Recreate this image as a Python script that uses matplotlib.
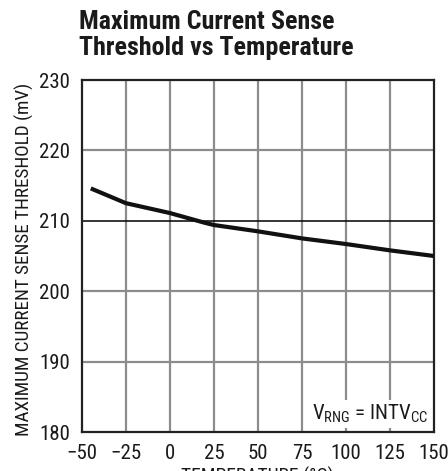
import matplotlib
matplotlib.use('Agg')
import matplotlib.pyplot as plt

# data
temps = [-45, -25, 0, 20, 25, 50, 75, 100, 125, 150]
threshold = [214.6, 212.5, 211.1, 209.7, 209.4, 208.5, 207.5, 206.7, 205.8, 205.0]

xticks = [-50, -25, 0, 25, 50, 75, 100, 125, 150]
xticklabels = ['\u221250', '\u221225', '0', '25', '50', '75', '100', '125', '150']
yticks = [180, 190, 200, 210, 220, 230]

W, H = 448, 471
fig = plt.figure(figsize=(W / 100, H / 100), dpi=100)
ax = fig.add_axes([82 / W, 1 - 432 / H, 352 / W, 352 / H])

narrow = ['Roboto Condensed', 'DejaVu Sans']

ax.set_xlim(-50, 150)
ax.set_ylim(180, 230)
ax.set_xticks(xticks)
ax.set_xticklabels(xticklabels)
ax.set_yticks(yticks)
ax.tick_params(length=0, labelsize=15, colors='#1a1a1a')
ax.tick_params(axis='x', pad=8.5)
ax.tick_params(axis='y', pad=8.5)
for lab in ax.get_xticklabels() + ax.get_yticklabels():
    lab.set_fontfamily(narrow)

# grid
for t in xticks[1:-1]:
    ax.axvline(t, color='#8c8c8c', lw=1.6, zorder=1)
for v in [190, 200, 220]:
    ax.axhline(v, color='#8c8c8c', lw=1.6, zorder=1)
ax.axhline(210, color='black', lw=1.1, zorder=1)

for sp in ax.spines.values():
    sp.set_linewidth(1.6)
    sp.set_color('#222222')

ax.plot(temps, threshold, color='#111111', lw=3.0, solid_capstyle='butt', zorder=3)

ax.text(0.985, 0.02, r'V$_{\mathregular{RNG}}$ = INTV$_{\mathregular{CC}}$',
        transform=ax.transAxes, ha='right', va='bottom', fontsize=15,
        family=narrow, zorder=4, color='#1a1a1a',
        bbox=dict(facecolor='white', edgecolor='none', pad=2))

ax.set_ylabel('MAXIMUM CURRENT SENSE THRESHOLD (mV)', family=narrow,
              fontsize=13.8, color='#1a1a1a')
ax.yaxis.set_label_coords(-0.135, 0.49)

fig.text(257 / W, 1 - 467 / H, 'TEMPERATURE (\u00b0C)', family=narrow,
         fontsize=14, ha='center', va='top', color='#1a1a1a')

fig.text(79 / W, 1 - 10 / H, 'Maximum Current Sense\nThreshold vs Temperature',
         family=narrow, fontweight='bold', fontsize=18.7, ha='left', va='top',
         linespacing=1.1, color='#1a1a1a')

fig.savefig('out.png', dpi=100)
